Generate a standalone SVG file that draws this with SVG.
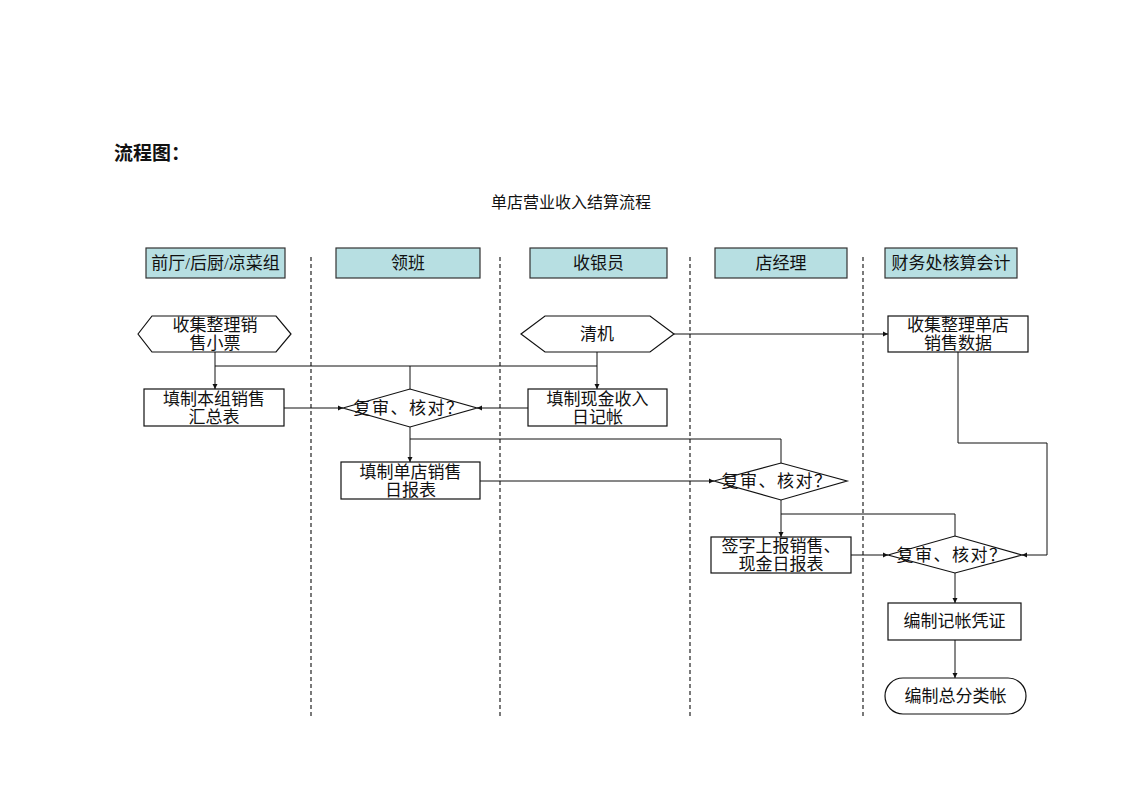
<svg xmlns="http://www.w3.org/2000/svg" width="1122" height="793" viewBox="0 0 1122 793">
<style>
text{font-family:"Liberation Serif","Noto Sans CJK SC",serif;fill:#111;text-anchor:middle;dominant-baseline:central;font-size:17px}
.d{letter-spacing:1.5px}
.hdr{fill:#b7dfe2;stroke:#333;stroke-width:1.2}
.box{fill:#fff;stroke:#111;stroke-width:1.2}
.lane{stroke:#222;stroke-width:1.2;stroke-dasharray:4,3;fill:none}
.c{fill:none;stroke:#111;stroke-width:1}
.a{marker-end:url(#arr)}
</style>
<defs>
<marker id="arr" markerWidth="6" markerHeight="6" refX="5" refY="3" orient="auto" markerUnits="userSpaceOnUse">
<path d="M0,0.5 L5,3 L0,5.5 Z" fill="#111"/>
</marker>
</defs>
<rect width="1122" height="793" fill="#fff"/>
<text x="114" y="151" style="text-anchor:start;font-weight:bold;font-size:19px;font-family:'Noto Sans CJK SC',sans-serif">流程图：</text>
<text x="571" y="202" style="font-size:16px">单店营业收入结算流程</text>

<g id="lanes">
<line class="lane" x1="311" y1="257" x2="311" y2="718"/>
<line class="lane" x1="500" y1="257" x2="500" y2="718"/>
<line class="lane" x1="690" y1="257" x2="690" y2="718"/>
<line class="lane" x1="863" y1="257" x2="863" y2="718"/>
</g>

<g id="h1"><rect class="hdr" x="146" y="248" width="139" height="30"/><text x="215.5" y="263">前厅/后厨/凉菜组</text></g>
<g id="h2"><rect class="hdr" x="336" y="248" width="144" height="30"/><text x="408" y="263">领班</text></g>
<g id="h3"><rect class="hdr" x="530" y="248" width="137" height="30"/><text x="598.5" y="263">收银员</text></g>
<g id="h4"><rect class="hdr" x="715" y="248" width="132" height="30"/><text x="781" y="263">店经理</text></g>
<g id="h5"><rect class="hdr" x="885" y="248" width="132" height="30"/><text x="951" y="263">财务处核算会计</text></g>

<g id="connectors">
<path class="c a" d="M215,352 V389"/>
<path class="c" d="M215,366 H597"/>
<path class="c a" d="M597,352 V389"/>
<path class="c" d="M410,366 V389"/>
<path class="c a" d="M284,408 H343"/>
<path class="c a" d="M528,408 H477"/>
<path class="c a" d="M410,427 V462"/>
<path class="c" d="M410,439 H781 V463"/>
<path class="c a" d="M480,481 H714"/>
<path class="c a" d="M781,500 V537"/>
<path class="c" d="M781,514 H955 V536"/>
<path class="c a" d="M851,555 H888"/>
<path class="c a" d="M674,334 H888"/>
<path class="c a" d="M958,352 V443 H1047 V555 H1022"/>
<path class="c a" d="M955,573 V603"/>
<path class="c a" d="M955,640 V678"/>
</g>

<g id="n1"><polygon class="box" points="138,334 152,316 276,316 291,334 276,352 152,352"/><text x="215" y="325">收集整理销</text><text x="215" y="343">售小票</text></g>
<g id="n2"><polygon class="box" points="521,334 545,316 650,316 674,334 650,352 545,352"/><text x="597" y="334">清机</text></g>
<g id="n3"><rect class="box" x="888" y="316" width="140" height="36"/><text x="958" y="325">收集整理单店</text><text x="958" y="343">销售数据</text></g>
<g id="n4"><rect class="box" x="144" y="389" width="140" height="37"/><text x="214" y="399">填制本组销售</text><text x="214" y="417">汇总表</text></g>
<g id="n5"><polygon class="box" points="343,408 410,389 477,408 410,427"/><text class="d" x="409" y="408">复审、核对？</text></g>
<g id="n6"><rect class="box" x="528" y="389" width="139" height="37"/><text x="597.5" y="399">填制现金收入</text><text x="597.5" y="417">日记帐</text></g>
<g id="n7"><rect class="box" x="341" y="462" width="139" height="37"/><text x="410.5" y="472">填制单店销售</text><text x="410.5" y="490">日报表</text></g>
<g id="n8"><polygon class="box" points="714,481 781,463 847,481 781,500"/><text class="d" x="777" y="481">复审、核对？</text></g>
<g id="n9"><rect class="box" x="711" y="537" width="140" height="36"/><text x="781" y="546">签字上报销售、</text><text x="781" y="564">现金日报表</text></g>
<g id="n10"><polygon class="box" points="888,555 955,536 1022,555 955,573"/><text class="d" x="952" y="555">复审、核对？</text></g>
<g id="n11"><rect class="box" x="888" y="603" width="133" height="37"/><text x="954.5" y="621.5">编制记帐凭证</text></g>
<g id="n12"><rect class="box" x="885" y="678" width="141" height="36" rx="18" ry="18"/><text x="955.5" y="696">编制总分类帐</text></g>
</svg>
